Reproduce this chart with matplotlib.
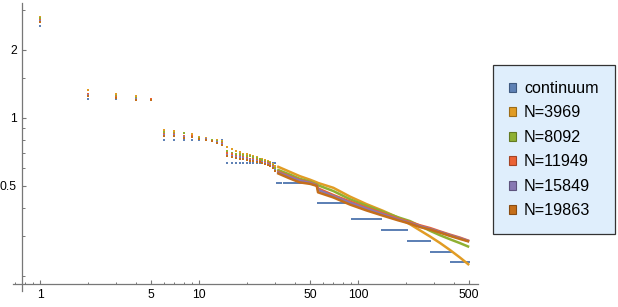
import numpy as np
import matplotlib.pyplot as plt
from matplotlib.patches import Patch
from matplotlib.ticker import FixedLocator, NullFormatter, FixedFormatter

plt.rcParams['font.family'] = ['Liberation Sans', 'DejaVu Sans']

# continuum: one level per shell, shell covers x = first..last
shell_first = [1, 2, 6, 15, 31, 56, 92, 141, 205, 286, 386]
shell_last = [1, 5, 14, 30, 55, 91, 140, 204, 285, 385, 500]
shell_level = [2.56, 1.21, 0.80, 0.632, 0.515, 0.42, 0.357, 0.319, 0.286, 0.255, 0.231]

labels = ["continuum", "N=3969", "N=8092", "N=11949", "N=15849", "N=19863"]
colors = ["#5E81B5", "#E19C24", "#8FB032", "#EB6235", "#8778B3", "#C56E1A"]
edges = ["#3f5a80", "#9c6c18", "#637a22", "#a34425", "#5e537d", "#894c12"]

# first 30 points, one per integer x
x_low = list(range(1, 31))
low_3969 = [2.81, 1.33, 1.28, 1.25, 1.21, 0.885, 0.876, 0.86, 0.845, 0.82, 0.812, 0.80, 0.795, 0.79,
            0.74, 0.73, 0.717, 0.705, 0.695, 0.69, 0.685, 0.675, 0.668, 0.66, 0.655, 0.648, 0.642, 0.636, 0.627, 0.615]
low_8092 = [2.76, 1.28, 1.25, 1.22, 1.20, 0.867, 0.86, 0.855, 0.835, 0.815, 0.808, 0.797, 0.79, 0.78,
            0.71, 0.70, 0.695, 0.69, 0.685, 0.68, 0.675, 0.668, 0.662, 0.655, 0.65, 0.645, 0.64, 0.632, 0.62, 0.60]
low_11949 = [2.72, 1.27, 1.24, 1.21, 1.21, 0.85, 0.848, 0.835, 0.828, 0.81, 0.805, 0.793, 0.785, 0.772,
             0.70, 0.69, 0.68, 0.675, 0.67, 0.665, 0.66, 0.655, 0.65, 0.645, 0.64, 0.635, 0.63, 0.622, 0.61, 0.59]
low_15849 = [2.69, 1.26, 1.23, 1.21, 1.20, 0.84, 0.838, 0.825, 0.822, 0.81, 0.803, 0.79, 0.78, 0.765,
             0.685, 0.68, 0.672, 0.668, 0.662, 0.658, 0.654, 0.65, 0.645, 0.64, 0.636, 0.63, 0.625, 0.618, 0.605, 0.585]
low_19863 = [2.67, 1.25, 1.23, 1.20, 1.20, 0.835, 0.835, 0.815, 0.82, 0.805, 0.80, 0.788, 0.777, 0.76,
             0.675, 0.67, 0.665, 0.66, 0.655, 0.65, 0.647, 0.643, 0.64, 0.635, 0.63, 0.625, 0.62, 0.612, 0.60, 0.58]

# beyond x=30 the points run together into bands
x_high = [31, 37, 43, 50, 55, 56, 70, 89, 113, 143, 178, 212, 246, 284, 328, 378, 436, 500]
high_3969 = [0.61, 0.578, 0.552, 0.532, 0.518, 0.515, 0.49, 0.448, 0.415, 0.388, 0.362, 0.338,
             0.317, 0.298, 0.279, 0.26, 0.241, 0.223]
high_8092 = [0.59, 0.562, 0.537, 0.522, 0.507, 0.503, 0.474, 0.436, 0.408, 0.384, 0.363, 0.349,
             0.332, 0.316, 0.302, 0.29, 0.279, 0.268]
high_11949 = [0.58, 0.552, 0.53, 0.517, 0.503, 0.487, 0.455, 0.426, 0.40, 0.378, 0.358, 0.345,
              0.334, 0.325, 0.314, 0.304, 0.295, 0.285]
high_15849 = [0.575, 0.548, 0.527, 0.515, 0.502, 0.48, 0.45, 0.421, 0.396, 0.374, 0.355, 0.342,
              0.331, 0.322, 0.312, 0.302, 0.293, 0.284]
high_19863 = [0.57, 0.54, 0.518, 0.51, 0.50, 0.468, 0.444, 0.413, 0.389, 0.369, 0.352, 0.34,
              0.328, 0.32, 0.31, 0.30, 0.291, 0.283]

low_all = [low_3969, low_8092, low_11949, low_15849, low_19863]
high_all = [high_3969, high_8092, high_11949, high_15849, high_19863]

fig = plt.figure(figsize=(6.18, 3.07), dpi=100)
ax = fig.add_axes([13/618, 1-291/307, 465/618, 288/307])
ax.set_xscale('log')
ax.set_yscale('log')

# continuum points, each integer x gets its shell level
sizes = np.array(shell_last) - np.array(shell_first) + 1
cx = np.arange(1, shell_last[-1] + 1)
cy = np.repeat(shell_level, sizes)
ax.plot(cx, cy, ls='none', marker='s', ms=1.5, mew=0, color=colors[0])

for i in range(5):
    ax.plot(x_low, low_all[i], ls='none', marker='s', ms=1.6, mew=0, color=colors[i+1])
    ax.plot(x_high, high_all[i], lw=1.8, color=colors[i+1], solid_capstyle='butt')

ax.set_xlim(0.676, 568)
ax.set_ylim(0.171, 3.23)

for s in ['top', 'right']:
    ax.spines[s].set_visible(False)
ax.spines['left'].set_position(('data', 0.774))
ax.spines['bottom'].set_position(('data', 0.184))
for s in ['left', 'bottom']:
    ax.spines[s].set_color('#777777')
    ax.spines[s].set_linewidth(0.9)

xmaj = [1, 5, 10, 50, 100, 500]
xmin = [0.7, 0.8, 0.9, 2, 3, 4, 6, 7, 8, 9, 20, 30, 40, 60, 70, 80, 90, 200, 300, 400]
ymaj = [0.5, 1, 2]
ymin = [0.2, 0.3, 0.4, 0.6, 0.7, 0.8, 0.9, 1.5, 3]
ax.xaxis.set_major_locator(FixedLocator(xmaj))
ax.xaxis.set_major_formatter(FixedFormatter([str(v) for v in xmaj]))
ax.xaxis.set_minor_locator(FixedLocator(xmin))
ax.xaxis.set_minor_formatter(NullFormatter())
ax.yaxis.set_major_locator(FixedLocator(ymaj))
ax.yaxis.set_major_formatter(FixedFormatter(['0.5', '1', '2']))
ax.yaxis.set_minor_locator(FixedLocator(ymin))
ax.yaxis.set_minor_formatter(NullFormatter())
ax.tick_params(which='major', direction='in', length=3.2, width=0.8, color='#777777',
               labelsize=8.8, labelcolor='black', pad=4)
ax.tick_params(which='minor', direction='in', length=1.8, width=0.7, color='#777777')

handles = [Patch(facecolor=colors[i], edgecolor=edges[i], lw=0.8, label=labels[i]) for i in range(6)]
leg = fig.legend(handles=handles, loc='upper left', bbox_to_anchor=(492.7/618, 1-65/307),
                 borderaxespad=0, fontsize=11.6, labelspacing=0.59, borderpad=0.99,
                 handlelength=0.45, handleheight=0.45, handletextpad=0.5, fancybox=False,
                 framealpha=1, facecolor='#dfeefc', edgecolor='#333333')
leg.get_frame().set_linewidth(0.9)

fig.savefig('out.png', dpi=100)
